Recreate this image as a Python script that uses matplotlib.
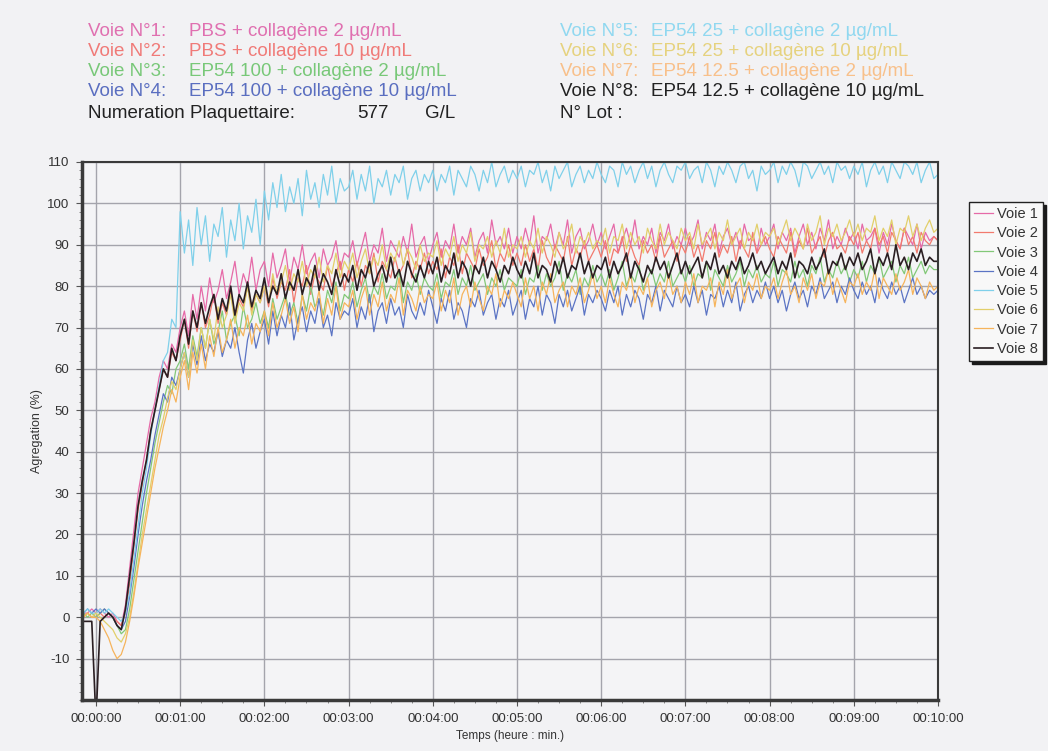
import numpy as np
import matplotlib
matplotlib.use("Agg")
import matplotlib.pyplot as plt
from matplotlib.ticker import FuncFormatter, MultipleLocator

plt.rcParams['font.family'] = ['Liberation Sans', 'DejaVu Sans']
plt.rcParams['axes.unicode_minus'] = False

# time grid in minutes (sampling of the read-off values)
time_min = np.round(np.concatenate([[-0.15, -0.10, -0.05], np.arange(0, 10.0001, 0.05)]), 3)

voie1 = [1, 1, 2,
 1, 2, 1, 0, 1, -1, -2, 3, 12, 21, 30, 36, 42, 48, 52, 58, 62, 60, 66, 64,
 70, 74, 68, 78, 72, 80, 74, 82, 76, 79, 84, 77, 81, 86, 78, 83, 80, 87, 79, 84,
 86, 80, 88, 82, 85, 89, 81, 87, 84, 90, 83, 86, 88, 82, 89, 85, 87, 91, 84, 88,
 87, 91, 85, 89, 93, 86, 90, 88, 94, 86, 91, 89, 87, 92, 88, 95, 87, 90, 92, 86,
 90, 93, 87, 91, 89, 95, 88, 92, 90, 94, 87, 91, 93, 88, 96, 90, 92, 89, 94, 88,
 92, 89, 94, 90, 97, 88, 92, 91, 95, 89, 93, 90, 96, 88, 92, 94, 89, 91, 95, 90,
 93, 89, 92, 95, 88, 91, 94, 90, 96, 89, 92, 90, 94, 88, 93, 91, 95, 89, 92, 90,
 94, 90, 92, 96, 89, 93, 91, 95, 88, 92, 94, 90, 93, 89, 95, 91, 92, 88, 94, 90,
 92, 95, 89, 93, 91, 94, 88, 92, 95, 90, 93, 89, 94, 91, 96, 89, 92, 90, 94, 91,
 93, 89, 95, 91, 92, 94, 88, 93, 90, 95, 91, 89, 94, 92, 90, 95, 89, 93, 91, 92,
 91]

voie2 = [0, 1, 0,
 0, 1, 0, 1, 0, -1, -2, 1, 8, 17, 26, 32, 38, 45, 50, 55, 60, 58, 64, 62,
 67, 72, 65, 74, 69, 76, 70, 73, 78, 71, 76, 73, 79, 72, 77, 75, 80, 74, 78, 76,
 80, 75, 82, 77, 81, 79, 84, 76, 82, 80, 85, 78, 83, 81, 79, 85, 80, 83, 86, 79,
 84, 81, 86, 80, 85, 83, 88, 81, 86, 84, 82, 87, 83, 85, 89, 82, 86, 84, 88, 83,
 86, 84, 89, 82, 87, 85, 90, 83, 88, 86, 84, 89, 85, 87, 91, 84, 88, 86, 90, 85,
 88, 85, 90, 86, 89, 84, 91, 87, 85, 90, 88, 86, 92, 85, 89, 87, 91, 86, 88, 90,
 87, 91, 85, 89, 88, 92, 86, 90, 87, 85, 91, 88, 90, 86, 92, 87, 89, 91, 86, 90,
 88, 92, 87, 90, 86, 91, 89, 93, 87, 90, 88, 92, 86, 91, 89, 87, 93, 88, 90, 92,
 89, 87, 92, 90, 88, 93, 87, 91, 89, 94, 88, 90, 92, 87, 91, 93, 89, 90, 88, 92,
 90, 93, 88, 91, 89, 94, 90, 92, 88, 93, 91, 89, 94, 90, 92, 88, 93, 91, 90, 92,
 91]

voie3 = [1, 0, 1,
 0, 1, 2, 1, 0, -2, -4, -3, 2, 9, 16, 23, 30, 36, 42, 47, 52, 56, 54, 60,
 62, 66, 60, 68, 63, 70, 65, 72, 66, 69, 74, 67, 71, 73, 68, 75, 70, 72, 76, 71,
 74, 70, 77, 72, 75, 78, 73, 76, 71, 78, 74, 80, 75, 77, 73, 79, 76, 81, 74, 78,
 77, 81, 75, 79, 82, 76, 80, 78, 83, 77, 80, 79, 84, 76, 81, 79, 83, 78, 82, 80,
 79, 83, 77, 81, 80, 84, 78, 82, 80, 85, 79, 81, 83, 78, 82, 80, 84, 79, 82, 81,
 80, 84, 78, 82, 81, 85, 79, 83, 80, 82, 86, 79, 83, 81, 84, 78, 82, 80, 85, 81,
 83, 80, 84, 79, 82, 86, 80, 83, 81, 85, 79, 82, 84, 80, 83, 81, 86, 80, 82, 84,
 81, 85, 80, 83, 82, 86, 79, 84, 82, 80, 85, 81, 83, 86, 80, 84, 82, 85, 81, 83,
 82, 86, 80, 84, 83, 81, 86, 82, 84, 80, 85, 83, 87, 81, 84, 82, 86, 83, 85, 81,
 84, 82, 86, 81, 85, 83, 87, 82, 84, 86, 81, 85, 83, 87, 82, 84, 86, 83, 85, 84,
 84]

voie4 = [1, 2, 1,
 2, 1, 2, 1, 0, -2, -3, -1, 5, 12, 20, 27, 33, 38, 44, 49, 54, 52, 58, 56,
 60, 64, 58, 66, 61, 68, 62, 66, 64, 69, 63, 67, 65, 70, 64, 59, 67, 71, 65, 69,
 72, 66, 74, 68, 73, 70, 76, 67, 72, 75, 69, 74, 71, 77, 70, 73, 68, 76, 72, 74,
 73, 77, 70, 75, 72, 78, 69, 74, 76, 71, 77, 73, 75, 70, 78, 74, 72, 76, 73, 79,
 75, 71, 77, 74, 79, 72, 76, 74, 70, 77, 75, 79, 73, 76, 78, 72, 77, 75, 79, 73,
 76, 79, 72, 77, 75, 80, 73, 78, 76, 71, 78, 75, 79, 74, 77, 80, 73, 78, 76, 79,
 77, 74, 79, 76, 80, 73, 78, 75, 79, 77, 72, 78, 76, 80, 74, 79, 77, 75, 80, 76,
 78, 75, 80, 76, 79, 73, 78, 77, 80, 75, 79, 76, 81, 74, 78, 80, 76, 79, 77, 81,
 77, 80, 76, 79, 74, 78, 81, 77, 79, 75, 80, 78, 82, 77, 79, 81, 76, 80, 78, 82,
 79, 77, 81, 78, 80, 76, 82, 79, 77, 81, 78, 80, 76, 79, 82, 78, 80, 77, 79, 78,
 79]

voie5 = [1, 2, 1,
 1, 2, 1, 2, 1, 0, -1, 1, 6, 14, 22, 30, 36, 44, 50, 56, 62, 64, 72, 70,
 98, 88, 96, 85, 99, 90, 97, 86, 95, 92, 99, 87, 96, 91, 100, 89, 97, 93, 101, 90,
 103, 96, 105, 99, 107, 98, 104, 100, 106, 97, 108, 101, 105, 99, 107, 102, 109, 100, 106, 103,
 104, 108, 101, 107, 103, 109, 100, 106, 104, 108, 102, 107, 105, 109, 101, 106, 108, 103, 107, 105,
 108, 103, 107, 105, 109, 102, 108, 106, 104, 109, 107, 103, 108, 105, 110, 104, 107, 109, 105, 108,
 106, 109, 104, 108, 107, 110, 105, 108, 103, 109, 106, 108, 110, 104, 107, 109, 105, 108, 106, 110,
 107, 105, 109, 108, 104, 110, 107, 109, 105, 108, 110, 106, 109, 104, 108, 110, 107, 105, 109, 108,
 110, 106, 108, 109, 105, 110, 108, 104, 109, 107, 110, 108, 105, 109, 110, 106, 108, 103, 109, 107,
 108, 110, 105, 109, 107, 110, 108, 104, 110, 109, 106, 108, 110, 107, 109, 105, 110, 108, 109, 106,
 109, 107, 110, 104, 108, 110, 107, 109, 105, 110, 108, 106, 110, 109, 107, 110, 105, 108, 110, 106,
 107]

voie6 = [0, 1, 0,
 1, 0, -1, -2, -3, -5, -6, -4, 0, 6, 13, 20, 26, 32, 38, 44, 48, 53, 57, 55,
 60, 64, 58, 67, 62, 70, 65, 72, 67, 75, 70, 73, 78, 71, 76, 74, 80, 73, 78, 76,
 80, 76, 83, 78, 81, 85, 79, 83, 81, 86, 80, 84, 82, 87, 81, 85, 83, 88, 82, 86,
 84, 88, 82, 86, 89, 83, 87, 85, 90, 84, 88, 86, 91, 85, 89, 87, 84, 90, 86, 88,
 87, 91, 85, 89, 87, 92, 86, 90, 88, 93, 86, 90, 89, 92, 87, 91, 88, 94, 87, 90,
 89, 92, 87, 91, 89, 94, 88, 92, 90, 87, 93, 89, 91, 95, 88, 92, 90, 93, 89, 91,
 90, 94, 88, 92, 91, 95, 89, 93, 90, 92, 88, 94, 91, 89, 95, 90, 93, 91, 89, 94,
 91, 93, 89, 95, 90, 92, 94, 89, 93, 91, 96, 90, 92, 94, 89, 93, 91, 95, 90, 93,
 92, 94, 90, 93, 96, 91, 94, 92, 89, 95, 91, 93, 97, 90, 94, 92, 95, 91, 93, 96,
 92, 95, 91, 94, 93, 97, 91, 94, 92, 96, 90, 94, 93, 97, 92, 95, 91, 94, 96, 93,
 94]

voie7 = [0, 1, 0,
 0, -1, -3, -5, -8, -10, -9, -6, -1, 5, 12, 18, 24, 30, 36, 41, 46, 50, 55, 52,
 58, 62, 55, 64, 59, 66, 60, 68, 63, 70, 64, 67, 72, 65, 70, 68, 73, 66, 71, 69,
 74, 68, 76, 70, 73, 77, 71, 75, 69, 78, 72, 76, 74, 79, 71, 77, 73, 80, 72, 76,
 75, 79, 72, 77, 80, 73, 78, 75, 81, 74, 78, 76, 82, 73, 79, 77, 74, 80, 76, 78,
 77, 81, 74, 79, 76, 82, 73, 78, 80, 75, 81, 77, 74, 80, 78, 83, 75, 79, 77, 81,
 78, 75, 82, 77, 80, 74, 81, 78, 83, 76, 79, 81, 75, 80, 78, 82, 76, 79, 83, 77,
 80, 76, 82, 78, 75, 81, 79, 83, 76, 80, 78, 82, 75, 79, 81, 77, 83, 78, 80, 76,
 81, 78, 83, 76, 80, 79, 82, 75, 81, 78, 84, 77, 80, 82, 76, 81, 79, 83, 77, 80,
 79, 82, 77, 81, 84, 78, 80, 76, 82, 79, 83, 77, 81, 80, 84, 78, 82, 79, 76, 81,
 80, 83, 78, 81, 79, 84, 77, 82, 80, 78, 83, 79, 81, 84, 78, 82, 80, 77, 81, 79,
 80]

voie8 = [-1, -1, -1,
 -25, -1, 0, 1, 0, -2, -3, 2, 10, 18, 27, 33, 38, 45, 50, 55, 60, 58, 65, 62,
 68, 72, 66, 74, 70, 76, 71, 75, 78, 72, 77, 74, 80, 73, 78, 76, 81, 75, 79, 77,
 82, 76, 80, 78, 83, 77, 81, 79, 84, 78, 82, 80, 85, 79, 83, 81, 78, 84, 80, 83,
 81, 85, 79, 84, 82, 86, 80, 83, 85, 81, 87, 82, 84, 80, 86, 83, 81, 85, 82, 86,
 83, 87, 81, 85, 83, 88, 82, 86, 84, 80, 85, 83, 87, 82, 86, 84, 81, 85, 83, 87,
 84, 82, 86, 83, 88, 82, 85, 84, 81, 86, 83, 87, 82, 85, 84, 88, 83, 86, 82, 85,
 84, 87, 82, 86, 83, 85, 88, 82, 86, 84, 81, 85, 83, 87, 84, 86, 82, 85, 88, 83,
 86, 83, 85, 87, 82, 86, 84, 88, 83, 85, 82, 86, 84, 87, 83, 85, 88, 84, 86, 83,
 85, 87, 83, 86, 84, 88, 82, 86, 85, 83, 87, 84, 86, 89, 83, 86, 85, 88, 84, 87,
 85, 88, 84, 86, 89, 83, 87, 85, 88, 84, 90, 85, 87, 84, 88, 86, 89, 85, 87, 86,
 86]

series = [voie1, voie2, voie3, voie4, voie5, voie6, voie7, voie8]
legend_labels = ["Voie 1", "Voie 2", "Voie 3", "Voie 4", "Voie 5", "Voie 6", "Voie 7", "Voie 8"]
colors = ['#e66aa8', '#f27a6e', '#82c878', '#5b74c4', '#7fd0ea', '#e2cf6a', '#f6b45c', '#2a1e22']

header_left_tags = ["Voie N°1:", "Voie N°2:", "Voie N°3:", "Voie N°4:"]
header_left_desc = ["PBS + collagène 2 µg/mL", "PBS + collagène 10 µg/mL",
                    "EP54 100 + collagène 2 µg/mL", "EP54 100 + collagène 10 µg/mL"]
header_right_tags = ["Voie N°5:", "Voie N°6:", "Voie N°7:", "Voie N°8:"]
header_right_desc = ["EP54 25 + collagène 2 µg/mL", "EP54 25 + collagène 10 µg/mL",
                     "EP54 12.5 + collagène 2 µg/mL", "EP54 12.5 + collagène 10 µg/mL"]
header_colors_left = ['#e070b0', '#f07a78', '#78c878', '#5a6ec0']
header_colors_right = ['#90d8f0', '#e6d27e', '#f8c08a', '#222222']

W, H = 1048, 751
fig = plt.figure(figsize=(W / 100, H / 100), dpi=100, facecolor='#f2f2f4')
ax = fig.add_axes([82 / W, 1 - 700 / H, (938 - 82) / W, (700 - 162) / H])
ax.set_facecolor('#f4f4f6')

for y, c, lab in zip(series, colors, legend_labels):
    lw = 1.2 if lab == "Voie 8" else 0.9
    ax.plot(time_min, y, color=c, lw=lw, label=lab)

ax.set_xlim(-0.166, 10.0)
ax.set_ylim(-20, 110)
ax.xaxis.set_major_locator(MultipleLocator(1))
ax.xaxis.set_minor_locator(MultipleLocator(0.25))
ax.yaxis.set_minor_locator(MultipleLocator(2))
ax.set_yticks(np.arange(-10, 111, 10))
ax.xaxis.set_major_formatter(FuncFormatter(lambda v, p: "00:%02d:00" % int(round(v))))
ax.grid(True, which='major', color='#a4a4ac', lw=1.0)
ax.set_axisbelow(True)
ax.tick_params(axis='both', which='major', labelsize=9.5, colors='#555555', labelcolor='#333333', length=4, pad=5)
ax.tick_params(axis='both', which='minor', length=2, colors='#777777')
for side, lw in [('left', 2.5), ('bottom', 2.5), ('top', 1.5), ('right', 1.5)]:
    ax.spines[side].set_linewidth(lw)
    ax.spines[side].set_color('#3a3a3a')

ax.set_xlabel("Temps (heure : min.)", fontsize=8.5, color='#333333', labelpad=4)
ax.set_ylabel("Agregation (%)", fontsize=9, color='#333333', labelpad=3)

leg = fig.legend(loc='upper left', bbox_to_anchor=(969 / W, 1 - 202 / H), fontsize=10.5,
                 frameon=True, fancybox=False, shadow={'color': '#1a1a1a', 'alpha': 1.0},
                 handlelength=1.3, handletextpad=0.3, labelspacing=0.36, borderpad=0.35,
                 borderaxespad=0)
leg.get_frame().set_edgecolor('#222222')
leg.get_frame().set_facecolor('#f8f8f8')
leg.get_frame().set_linewidth(1.0)
for t in leg.get_texts():
    t.set_color('#333333')

fs = 13.5
ys = [31, 51, 71, 92]
for i in range(4):
    fig.text(88 / W, 1 - ys[i] / H, header_left_tags[i], color=header_colors_left[i], fontsize=fs, va='center')
    fig.text(189 / W, 1 - ys[i] / H, header_left_desc[i], color=header_colors_left[i], fontsize=fs, va='center')
    fig.text(560 / W, 1 - ys[i] / H, header_right_tags[i], color=header_colors_right[i], fontsize=fs, va='center')
    fig.text(651 / W, 1 - ys[i] / H, header_right_desc[i], color=header_colors_right[i], fontsize=fs, va='center')
fig.text(88 / W, 1 - 114 / H, "Numeration Plaquettaire:", color='#222222', fontsize=fs, va='center')
fig.text(357 / W, 1 - 114 / H, "577", color='#222222', fontsize=fs, va='center')
fig.text(425 / W, 1 - 114 / H, "G/L", color='#222222', fontsize=fs, va='center')
fig.text(560 / W, 1 - 114 / H, "N° Lot :", color='#222222', fontsize=fs, va='center')

fig.savefig("out.png", dpi=100, facecolor=fig.get_facecolor())
